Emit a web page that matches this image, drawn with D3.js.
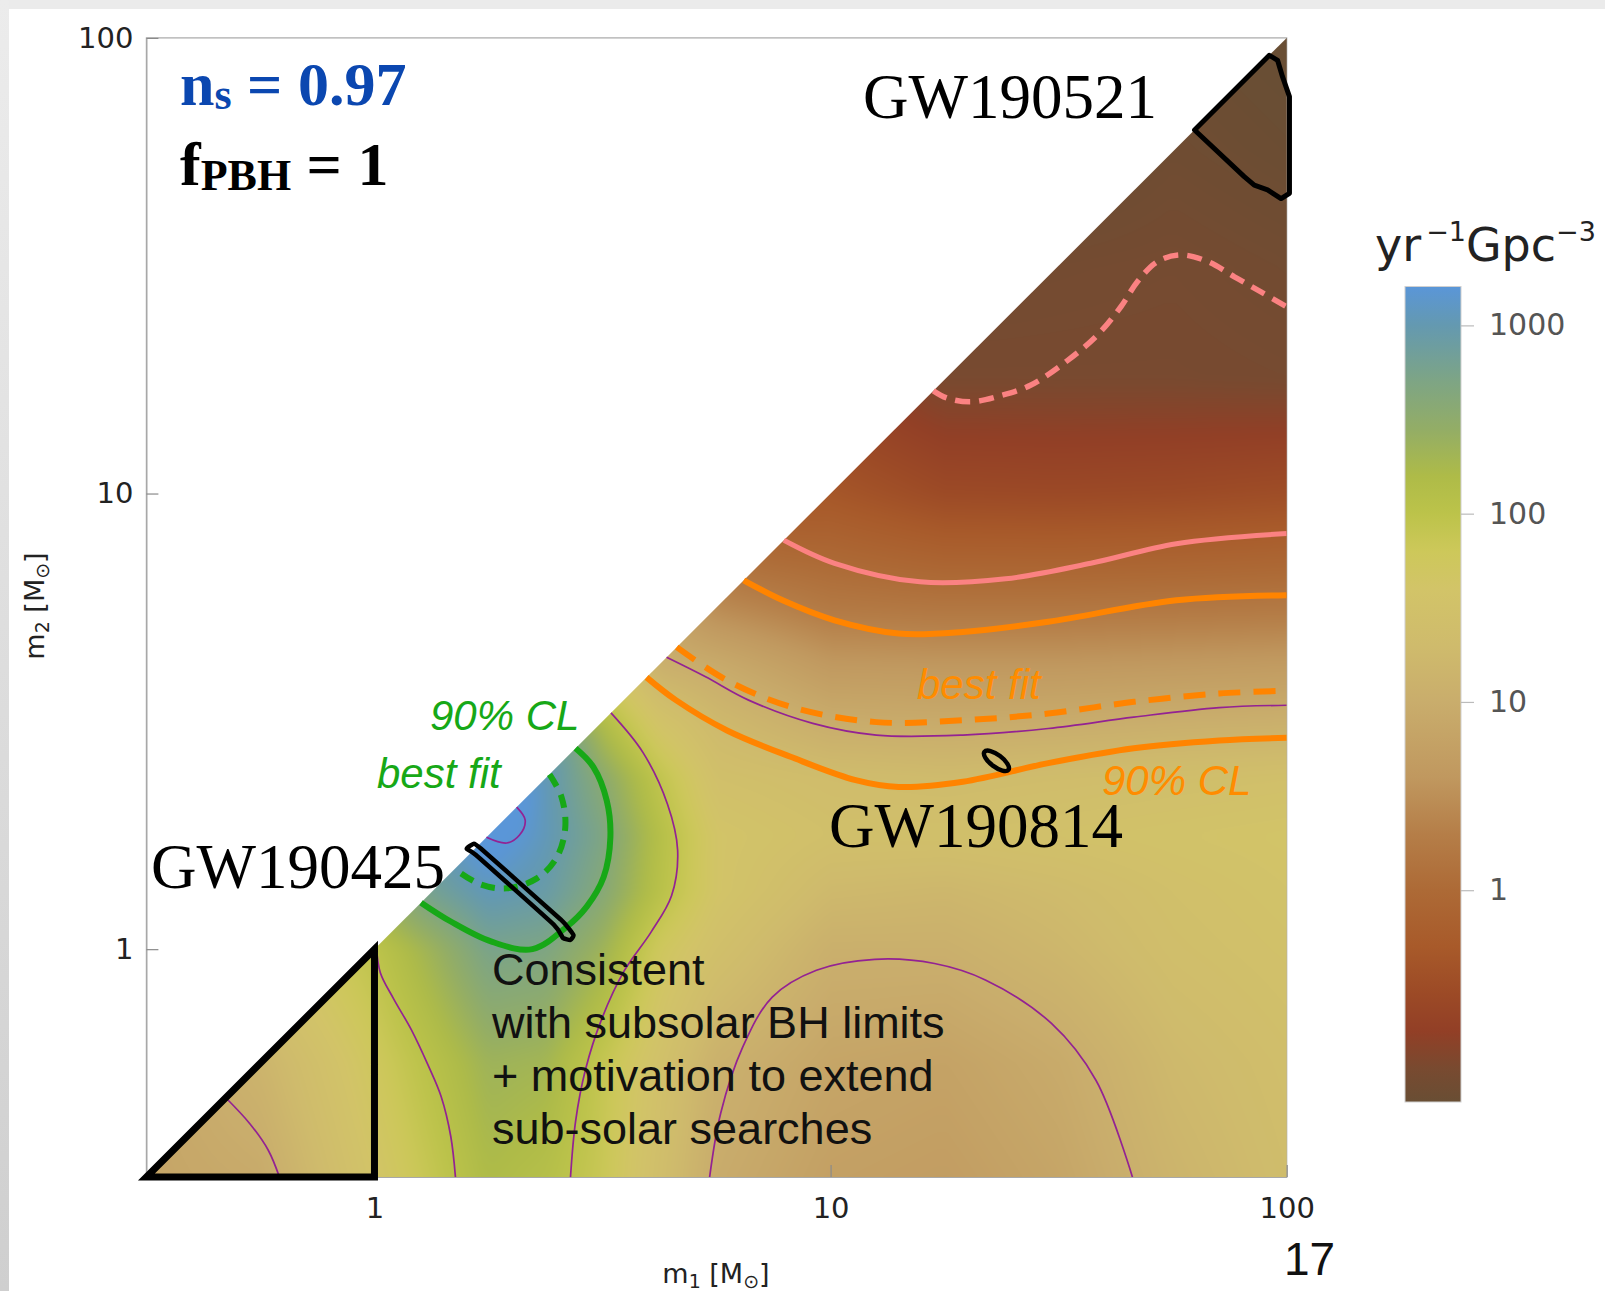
<!DOCTYPE html>
<html><head><meta charset="utf-8">
<script src="https://cdn.jsdelivr.net/npm/d3@7"></script>
<style>html,body{margin:0;padding:0;background:#fff;overflow:hidden}svg{display:block}</style>
</head><body>
<svg id="chart" width="1605" height="1291"></svg>
<script>
// ---------------- DATA (masses in solar masses, rates in yr^-1 Gpc^-3) ----------------
const axisDomain = [0.3162, 100];
const xTicks = [1, 10, 100];
const yTicks = [1, 10, 100];
const cbTicks = [1, 10, 100, 1000];
const cbRange = [0.075, 1609];

// colour map: log10(rate) stops and colours
const cmapLog = [-1.125, -0.95, -0.75, -0.55, -0.3, 0, 0.3, 0.6, 1.0, 1.3, 1.6, 1.8, 2.0, 2.2, 2.45, 2.7, 3.0, 3.21];
const cmapColors = ["#694e34", "#784a30", "#923f26", "#9c4a26", "#a85a2a", "#ad6a36", "#b57e48", "#c0985f", "#c9ad6c", "#cfbb6c", "#d2c468", "#cdc85a", "#bcc34a", "#aebb48", "#93ad66", "#7ea584", "#6499b0", "#5a96d8"];

// grid nodes (solar masses) for the rate map, same for m1 and m2
const gridMass = [0.3162, 0.5623, 1, 1.334, 1.778, 2.371, 3.162, 4.217, 5.623, 10, 17.78, 31.62, 56.23, 100];
// log10 merger rate; rows = m2 node, cols = m1 node
const rateLog10 = [
  [0.85, 0.95, 1.6, 1.9, 2.2, 2.1, 1.85, 1.4, 0.97, 0.75, 0.7, 0.85, 1.15, 1.35],
  [0.85, 1.15, 1.75, 2.05, 2.35, 2.3, 1.9, 1.5, 1.08, 0.85, 0.8, 0.95, 1.25, 1.4],
  [null, 1.56, 1.98, 2.35, 2.75, 2.7, 2.35, 1.75, 1.45, 1.05, 1.05, 1.2, 1.4, 1.5],
  [null, null, 2.47, 2.8, 3.05, 2.95, 2.6, 2.05, 1.6, 1.25, 1.2, 1.3, 1.45, 1.55],
  [null, null, null, 3.0, 3.35, 3.05, 2.7, 2.1, 1.6, 1.45, 1.45, 1.5, 1.55, 1.6],
  [null, null, null, null, 3.75, 3.05, 2.55, 1.95, 1.45, 1.35, 1.3, 1.35, 1.4, 1.45],
  [null, null, null, null, null, 3.25, 2.15, 1.55, 1.25, 0.98, 0.95, 0.97, 1.02, 1.05],
  [null, null, null, null, null, null, 1.65, 1.05, 0.95, 0.62, 0.6, 0.6, 0.63, 0.66],
  [null, null, null, null, null, null, null, 0.75, 0.45, 0.22, 0.18, 0.18, 0.2, 0.22],
  [null, null, null, null, null, null, null, null, -0.45, -0.35, -0.55, -0.57, -0.55, -0.5],
  [null, null, null, null, null, null, null, null, null, -0.75, -0.95, -0.95, -0.95, -0.97],
  [null, null, null, null, null, null, null, null, null, null, -1.02, -1.0, -0.98, -1.02],
  [null, null, null, null, null, null, null, null, null, null, null, -1.15, -1.05, -1.1],
  [null, null, null, null, null, null, null, null, null, null, null, null, -1.1, -1.15]
];

// thin purple rate contours [m1, m2]
const purpleContours = [
  [[2.05, 2.05], [2.14, 1.92], [2.08, 1.78], [1.95, 1.71], [1.76, 1.76]],
  [[1.01, 1.01], [1.03, 0.888], [1.10, 0.780], [1.205, 0.665], [1.31, 0.557], [1.40, 0.475], [1.47, 0.388], [1.505, 0.316]],
  [[3.3, 3.3], [3.88, 2.70], [4.39, 2.08], [4.62, 1.65], [4.48, 1.31], [4.04, 1.09], [3.53, 0.897], [3.15, 0.703], [2.90, 0.543], [2.76, 0.419], [2.69, 0.316]],
  [[0.472, 0.472], [0.533, 0.414], [0.585, 0.362], [0.619, 0.316]],
  [[5.43, 0.316], [5.74, 0.436], [6.42, 0.610], [7.45, 0.785], [9.31, 0.899], [12.5, 0.950], [16.9, 0.930], [21.9, 0.855], [30.5, 0.687], [38.2, 0.515], [45.9, 0.316]],
  [[4.37, 4.37], [5.32, 3.96], [6.61, 3.52], [9.14, 3.13], [12.6, 2.95], [19.5, 2.95], [30.0, 3.05], [46.2, 3.23], [71.1, 3.39], [100, 3.43]]
];

// LIGO constraint curves [m1, m2]
const orangeUpper = [[6.45, 6.45], [7.85, 5.83], [10.2, 5.27], [14.1, 4.93], [19.5, 4.97], [30.0, 5.23], [57.3, 5.83], [100, 5.98]];
const orangeBestFit = [[4.6, 4.6], [5.93, 3.89], [8.20, 3.40], [12.6, 3.15], [19.5, 3.18], [30.0, 3.29], [46.2, 3.49], [71.1, 3.64], [100, 3.69]];
const orange90CL = [[3.95, 3.95], [4.58, 3.52], [5.93, 3.02], [8.20, 2.64], [11.35, 2.35], [14.1, 2.27], [19.5, 2.33], [30.0, 2.56], [46.2, 2.76], [71.1, 2.87], [100, 2.91]];
const pinkSolid = [[7.9, 7.9], [10.2, 7.03], [15.7, 6.40], [24.2, 6.50], [37.2, 7.03], [57.3, 7.76], [100, 8.17]];
const pinkDashed = [[16.8, 16.8], [18.0, 16.2], [20.3, 15.9], [23.6, 16.4], [27.5, 17.3], [33.1, 19.6], [38.5, 22.3], [43.3, 25.7], [47.1, 29.2], [52.1, 32.3], [58.6, 33.4], [67.1, 32.3], [76.8, 29.9], [87.8, 27.7], [100, 25.7]];
const greenBestFit = [[2.42, 2.42], [2.57, 2.16], [2.62, 1.85], [2.51, 1.59], [2.27, 1.43], [1.95, 1.36], [1.70, 1.39], [1.50, 1.50]];
const green90CL = [[2.76, 2.76], [3.02, 2.51], [3.23, 2.12], [3.29, 1.76], [3.18, 1.44], [2.92, 1.24], [2.64, 1.12], [2.22, 1.0], [1.80, 1.04], [1.47, 1.15], [1.265, 1.265]];

// events
const gw190425 = [[1.593, 1.661], [1.652, 1.704], [1.713, 1.661], [2.56, 1.162], [2.73, 1.075], [2.69, 1.048], [2.59, 1.058], [2.472, 1.132], [1.669, 1.609]];
const gw190521 = [[62.8, 62.8], [91.6, 91.6], [95.5, 89.3], [97.9, 82.2], [101.4, 74.3], [101.4, 45.6], [97.2, 44.4], [90.8, 46.4], [84.9, 47.5], [80.7, 49.6]];
const gw190814 = [23.1, 2.59];
const subsolarBox = [[0.3162, 0.3162], [1, 0.3162], [1, 1]];
const noteLines = ["Consistent", "with subsolar BH limits", "+ motivation to extend", "sub-solar searches"];

// ---------------- DRAWING ----------------
const svg = d3.select('#chart');
const defs = svg.append('defs');
const x = d3.scaleLog().domain(axisDomain).range([146.4, 1286.7]);
const y = d3.scaleLog().domain(axisDomain).range([1177, 37.9]);

// slide background strips
const lg = defs.append('linearGradient').attr('id', 'leftStrip').attr('x1', 0).attr('y1', 0).attr('x2', 0).attr('y2', 1);
lg.append('stop').attr('offset', 0).attr('stop-color', '#ececec');
lg.append('stop').attr('offset', 1).attr('stop-color', '#cfcfcf');
svg.append('rect').attr('x', 0).attr('y', 0).attr('width', 1605).attr('height', 9).attr('fill', '#ebebeb');
svg.append('rect').attr('x', 0).attr('y', 0).attr('width', 9).attr('height', 1291).attr('fill', 'url(#leftStrip)');

const px0 = x.range()[0], px1 = x.range()[1], py0 = y.range()[1], py1 = y.range()[0];
svg.append('rect').attr('x', px0).attr('y', py0).attr('width', px1 - px0).attr('height', py1 - py0)
  .attr('fill', '#fff').attr('stroke', '#a8a8a8').attr('stroke-width', 1.2);

// colour scale
const color = d3.scaleLinear().domain(cmapLog).range(cmapColors).interpolate(d3.interpolateRgb).clamp(true);

// rate field (bilinear on the node grid, symmetric in m1 <-> m2)
const LG = gridMass.map(Math.log10);
function cellIndex(v) { let i = 0; while (i < LG.length - 2 && v > LG[i + 1]) i++; return i; }
function field(lx, ly) {
  if (ly > lx) { const t = lx; lx = ly; ly = t; }
  lx = Math.max(LG[0], Math.min(LG[LG.length - 1], lx));
  ly = Math.max(LG[0], Math.min(LG[LG.length - 1], ly));
  if (ly > lx) ly = lx;
  const i = cellIndex(lx), j = cellIndex(ly);
  const tx = (lx - LG[i]) / (LG[i + 1] - LG[i]), ty = (ly - LG[j]) / (LG[j + 1] - LG[j]);
  const f00 = rateLog10[j][i], f10 = rateLog10[j][i + 1];
  const f01 = rateLog10[j + 1][i] ?? f00, f11 = rateLog10[j + 1][i + 1];
  return (1 - tx) * (1 - ty) * f00 + tx * (1 - ty) * f10 + (1 - tx) * ty * f01 + tx * ty * f11;
}
const pad = 24;
const cw = Math.ceil(px1 - px0) + 2 * pad, chh = Math.ceil(py1 - py0) + 2 * pad;
const c1 = document.createElement('canvas'); c1.width = cw; c1.height = chh;
const ctx1 = c1.getContext('2d');
const img = ctx1.createImageData(cw, chh);
const lut = d3.range(600).map(k => d3.rgb(color(-1.2 + k * 4.5 / 599)));
for (let cy = 0; cy < chh; cy++) {
  const ly = Math.log10(y.invert(py0 - pad + cy + 0.5));
  for (let cx = 0; cx < cw; cx++) {
    const lx = Math.log10(x.invert(px0 - pad + cx + 0.5));
    const v = field(lx, ly);
    const k = Math.max(0, Math.min(599, Math.round((v + 1.2) / 4.5 * 599)));
    const c = lut[k], o = (cy * cw + cx) * 4;
    img.data[o] = c.r; img.data[o + 1] = c.g; img.data[o + 2] = c.b; img.data[o + 3] = 255;
  }
}
ctx1.putImageData(img, 0, 0);
const c2 = document.createElement('canvas'); c2.width = cw; c2.height = chh;
const ctx2 = c2.getContext('2d');
ctx2.filter = 'blur(7px)';
ctx2.drawImage(c1, 0, 0);

defs.append('clipPath').attr('id', 'tri').append('path')
  .attr('d', d3.line()([[x(axisDomain[0]), y(axisDomain[0])], [x(axisDomain[1]), y(axisDomain[0])], [x(axisDomain[1]), y(axisDomain[1])]]) + 'Z');
defs.append('clipPath').attr('id', 'plotArea').append('rect')
  .attr('x', px0).attr('y', py0).attr('width', px1 - px0).attr('height', py1 - py0);

svg.append('image').attr('x', px0 - pad).attr('y', py0 - pad).attr('width', cw).attr('height', chh)
  .attr('href', c2.toDataURL()).attr('clip-path', 'url(#tri)').attr('preserveAspectRatio', 'none');

// axes
const xAxis = d3.axisBottom(x).tickValues(xTicks).tickFormat(d3.format('d')).tickSizeInner(-12).tickSizeOuter(0).tickPadding(20);
const gx = svg.append('g').attr('transform', `translate(0,${py1})`).call(xAxis);
const yAxis = d3.axisLeft(y).tickValues(yTicks).tickFormat(d3.format('d')).tickSizeInner(-12).tickSizeOuter(0).tickPadding(13);
const gy = svg.append('g').attr('transform', `translate(${px0},0)`).call(yAxis);
[gx, gy].forEach(g => {
  g.select('.domain').attr('stroke', '#a8a8a8').attr('stroke-width', 1.2);
  g.selectAll('.tick line').attr('stroke', '#8a8a8a').attr('stroke-width', 1.2);
  g.selectAll('.tick text').attr('font-family', 'DejaVu Sans').attr('font-size', 29).attr('fill', '#222');
});

// curves
const line = d3.line().x(d => x(d[0])).y(d => y(d[1])).curve(d3.curveCatmullRom.alpha(0.5));
const curves = svg.append('g').attr('clip-path', 'url(#plotArea)').attr('fill', 'none').attr('stroke-linecap', 'butt');
curves.selectAll('path.purple').data(purpleContours).join('path').attr('class', 'purple')
  .attr('d', line).attr('stroke', '#932293').attr('stroke-width', 1.7);
const styled = [
  { d: pinkDashed, c: '#fb8282', w: 5.5, dash: '15,9' },
  { d: pinkSolid, c: '#fb8282', w: 5, dash: null },
  { d: orangeUpper, c: '#ff8400', w: 6, dash: null },
  { d: orangeBestFit, c: '#ff8400', w: 6, dash: '22,13' },
  { d: orange90CL, c: '#ff8400', w: 6, dash: null },
  { d: greenBestFit, c: '#17a817', w: 6, dash: '14,9' },
  { d: green90CL, c: '#17a817', w: 6, dash: null }
];
curves.selectAll('path.lim').data(styled).join('path').attr('class', 'lim')
  .attr('d', s => line(s.d)).attr('stroke', s => s.c).attr('stroke-width', s => s.w)
  .attr('stroke-dasharray', s => s.dash);

// black annotations
const poly = d3.line().x(d => x(d[0])).y(d => y(d[1]));
svg.append('path').attr('d', poly(subsolarBox) + 'Z').attr('fill', 'none').attr('stroke', '#000').attr('stroke-width', 7).attr('stroke-linejoin', 'miter');
svg.append('path').attr('d', poly(gw190521) + 'Z').attr('fill', 'none').attr('stroke', '#000').attr('stroke-width', 5).attr('stroke-linejoin', 'round');
svg.append('path').attr('d', d3.line().x(d => x(d[0])).y(d => y(d[1])).curve(d3.curveCardinalClosed.tension(0.6))(gw190425))
  .attr('fill', 'none').attr('stroke', '#000').attr('stroke-width', 4.5).attr('stroke-linejoin', 'round');
svg.append('ellipse').attr('cx', x(gw190814[0])).attr('cy', y(gw190814[1])).attr('rx', 15).attr('ry', 6)
  .attr('transform', `rotate(37,${x(gw190814[0])},${y(gw190814[1])})`)
  .attr('fill', 'none').attr('stroke', '#000').attr('stroke-width', 4.5);

// texts
const serif = 'Liberation Serif, Times New Roman, serif';
const sans = 'Liberation Sans, Arial, Helvetica, sans-serif';
const t1 = svg.append('text').attr('x', 180).attr('y', 105).attr('font-family', serif).attr('font-weight', 'bold').attr('fill', '#0b47b0').attr('font-size', 62);
t1.append('tspan').text('n');
t1.append('tspan').attr('font-size', 44).attr('dy', 4).text('s');
t1.append('tspan').attr('dy', -4).text(' = 0.97');
const t2 = svg.append('text').attr('x', 180).attr('y', 185).attr('font-family', serif).attr('font-weight', 'bold').attr('fill', '#000').attr('font-size', 62);
t2.append('tspan').text('f');
t2.append('tspan').attr('font-size', 44).attr('dy', 5).text('PBH');
t2.append('tspan').attr('dy', -5).text(' = 1');

const gwLabels = [
  { t: 'GW190521', x: 863, y: 118 },
  { t: 'GW190814', x: 829, y: 847 },
  { t: 'GW190425', x: 151, y: 888 }
];
svg.selectAll('text.gw').data(gwLabels).join('text').attr('class', 'gw')
  .attr('x', d => d.x).attr('y', d => d.y).attr('font-family', serif).attr('font-size', 63).attr('fill', '#000').text(d => d.t);

const clLabels = [
  { t: '90% CL', x: 430, y: 730, c: '#17a817' },
  { t: 'best fit', x: 377, y: 788, c: '#17a817' },
  { t: 'best fit', x: 917, y: 699, c: '#ff8c00' },
  { t: '90% CL', x: 1102, y: 795, c: '#ff8c00' }
];
svg.selectAll('text.cl').data(clLabels).join('text').attr('class', 'cl')
  .attr('x', d => d.x).attr('y', d => d.y).attr('font-family', sans).attr('font-style', 'italic')
  .attr('font-size', 42).attr('fill', d => d.c).text(d => d.t);

svg.selectAll('text.note').data(noteLines).join('text').attr('class', 'note')
  .attr('x', 492).attr('y', (d, i) => 985 + i * 53).attr('font-family', sans).attr('font-size', 45).attr('fill', '#111').text(d => d);

// axis titles
const xl = svg.append('text').attr('x', 716).attr('y', 1283).attr('text-anchor', 'middle').attr('font-family', 'DejaVu Sans').attr('font-size', 27).attr('fill', '#222');
xl.append('tspan').text('m');
xl.append('tspan').attr('font-size', 19).attr('dy', 5).text('1');
xl.append('tspan').attr('dy', -5).text(' [M');
xl.append('tspan').attr('font-size', 19).attr('dy', 5).text('⊙');
xl.append('tspan').attr('dy', -5).text(']');
const yl = svg.append('text').attr('transform', 'translate(44,606) rotate(-90)').attr('text-anchor', 'middle').attr('font-family', 'DejaVu Sans').attr('font-size', 27).attr('fill', '#222');
yl.append('tspan').text('m');
yl.append('tspan').attr('font-size', 19).attr('dy', 5).text('2');
yl.append('tspan').attr('dy', -5).text(' [M');
yl.append('tspan').attr('font-size', 19).attr('dy', 5).text('⊙');
yl.append('tspan').attr('dy', -5).text(']');

// slide number
svg.append('text').attr('x', 1284).attr('y', 1275).attr('font-family', sans).attr('font-size', 46).attr('fill', '#111').text('17');

// colorbar
const cb = d3.scaleLog().domain(cbRange).range([1102, 286.5]);
const lo = Math.log10(cbRange[0]), hi = Math.log10(cbRange[1]);
const cg = defs.append('linearGradient').attr('id', 'cbGrad').attr('x1', 0).attr('y1', 1).attr('x2', 0).attr('y2', 0);
cg.selectAll('stop').data(cmapLog).join('stop')
  .attr('offset', d => Math.max(0, Math.min(1, (d - lo) / (hi - lo))))
  .attr('stop-color', (d, i) => cmapColors[i]);
svg.append('rect').attr('x', 1405).attr('y', cb.range()[1]).attr('width', 56).attr('height', cb.range()[0] - cb.range()[1])
  .attr('fill', 'url(#cbGrad)').attr('stroke', '#d0d0d0').attr('stroke-width', 1);
const cbAxis = d3.axisRight(cb).tickValues(cbTicks).tickFormat(d3.format('d')).tickSizeInner(13).tickSizeOuter(0).tickPadding(15);
const gcb = svg.append('g').attr('transform', 'translate(1461,0)').call(cbAxis);
gcb.select('.domain').remove();
gcb.selectAll('.tick line').attr('stroke', '#bbb').attr('stroke-width', 1.2);
gcb.selectAll('.tick text').attr('font-family', 'DejaVu Sans').attr('font-size', 30).attr('fill', '#555');

const ct = svg.append('text').attr('x', 1375).attr('y', 261).attr('font-family', 'DejaVu Sans').attr('font-size', 46).attr('fill', '#222');
ct.append('tspan').text('yr');
ct.append('tspan').attr('font-size', 27).attr('dx', 5).attr('dy', -20).text('−1');
ct.append('tspan').attr('dy', 20).text('Gpc');
ct.append('tspan').attr('font-size', 27).attr('dy', -20).text('−3');
</script>
</body></html>
